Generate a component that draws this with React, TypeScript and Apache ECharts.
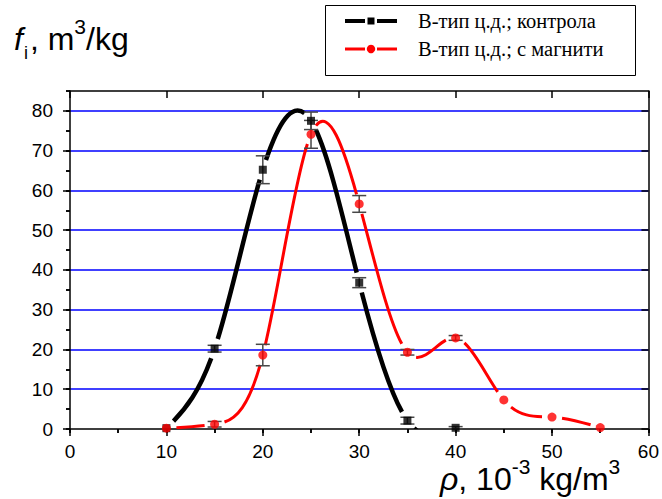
import React, { useEffect, useRef } from "react";
import * as echarts from "echarts";

// ---- data ----
const controlDensity = [10, 15, 20, 25, 30, 35, 40];
const controlValues = [0.2, 20.2, 65.2, 77.5, 36.8, 2.1, 0.3];
const controlErrors = [0, 0.85, 3.5, 2.2, 1.25, 0.85, 0.3];

const magnetDensity = [10, 15, 20, 25, 30, 35, 40, 45, 50, 55];
const magnetValues = [0.2, 1.2, 18.6, 74.1, 56.6, 19.3, 22.9, 7.3, 3.0, 0.35];
const magnetErrors = [0, 0.7, 2.7, 3.5, 2.1, 0.7, 0.6, 0, 0, 0];

const xTicks = [0, 10, 20, 30, 40, 50, 60];
const yTicks = [0, 10, 20, 30, 40, 50, 60, 70, 80];
const yMax = 85;

const legendNames = ["В-тип ц.д.; контрола", "В-тип ц.д.; с магнити"];

const BLACK = "#000000";
const RED = "#ff0000";
const BLUE = "#0000ff";
const ERR = "#484848";
const SANS = "'Liberation Sans', Arial, sans-serif";
const SERIF = "'Liberation Serif', 'Times New Roman', serif";

// Natural cubic spline (as the original plotting program draws it):
// returns, per segment, the Bezier control handles in data space.
function splineSegments(xs: number[], ys: number[]) {
  const n = xs.length;
  const h: number[] = [];
  for (let i = 0; i < n - 1; i++) h.push(xs[i + 1] - xs[i]);
  const M = new Array(n).fill(0);
  if (n > 2) {
    const a: number[] = [], b: number[] = [], c: number[] = [], d: number[] = [];
    for (let i = 1; i < n - 1; i++) {
      a.push(h[i - 1]);
      b.push(2 * (h[i - 1] + h[i]));
      c.push(h[i]);
      d.push(6 * ((ys[i + 1] - ys[i]) / h[i] - (ys[i] - ys[i - 1]) / h[i - 1]));
    }
    const m = b.length;
    const cp = new Array(m).fill(0), dp = new Array(m).fill(0);
    cp[0] = c[0] / b[0];
    dp[0] = d[0] / b[0];
    for (let i = 1; i < m; i++) {
      const den = b[i] - a[i] * cp[i - 1];
      cp[i] = c[i] / den;
      dp[i] = (d[i] - a[i] * dp[i - 1]) / den;
    }
    const sol = new Array(m).fill(0);
    sol[m - 1] = dp[m - 1];
    for (let i = m - 2; i >= 0; i--) sol[i] = dp[i] - cp[i] * sol[i + 1];
    for (let i = 0; i < m; i++) M[i + 1] = sol[i];
  }
  const segs: number[][] = [];
  for (let i = 0; i < n - 1; i++) {
    const hi = h[i];
    const s = (ys[i + 1] - ys[i]) / hi;
    const d0 = s - (hi * (2 * M[i] + M[i + 1])) / 6;
    const d1 = s + (hi * (M[i] + 2 * M[i + 1])) / 6;
    segs.push([
      xs[i], ys[i],
      xs[i] + hi / 3, ys[i] + (d0 * hi) / 3,
      xs[i + 1] - hi / 3, ys[i + 1] - (d1 * hi) / 3,
      xs[i + 1], ys[i + 1],
    ]);
  }
  return segs;
}

type P = [number, number];
const lerp = (p: P, q: P, t: number): P => [p[0] + (q[0] - p[0]) * t, p[1] + (q[1] - p[1]) * t];
function splitBez(p0: P, p1: P, p2: P, p3: P, t: number) {
  const a = lerp(p0, p1, t), b = lerp(p1, p2, t), c = lerp(p2, p3, t);
  const d = lerp(a, b, t), e = lerp(b, c, t);
  const f = lerp(d, e, t);
  return { left: [p0, a, d, f] as P[], right: [f, e, c, p3] as P[] };
}
function bezAt(p: P[], t: number): P {
  const u = 1 - t;
  return [
    u * u * u * p[0][0] + 3 * u * u * t * p[1][0] + 3 * u * t * t * p[2][0] + t * t * t * p[3][0],
    u * u * u * p[0][1] + 3 * u * u * t * p[1][1] + 3 * u * t * t * p[2][1] + t * t * t * p[3][1],
  ];
}
// trim a pixel-space bezier so that it stops `gap` px short of both end markers
function trimBez(p: P[], gap: number): P[] | null {
  const dist = (a: P, b: P) => Math.hypot(a[0] - b[0], a[1] - b[1]);
  const N = 400;
  let t0 = -1, t1 = -1;
  for (let k = 0; k <= N; k++) {
    const t = k / N;
    if (dist(bezAt(p, t), p[0]) >= gap) { t0 = t; break; }
  }
  for (let k = N; k >= 0; k--) {
    const t = k / N;
    if (dist(bezAt(p, t), p[3]) >= gap) { t1 = t; break; }
  }
  if (t0 < 0 || t1 < 0 || t1 <= t0) return null;
  const L = splitBez(p[0], p[1], p[2], p[3], t1).left;
  const R = splitBez(L[0], L[1], L[2], L[3], t0 / t1).right;
  return R;
}

function curveSeries(xs: number[], ys: number[], color: string, width: number, z: number, name: string) {
  const segs = splineSegments(xs, ys);
  return {
    type: "custom",
    name,
    silent: true,
    clip: true,
    z,
    xAxisIndex: 0,
    yAxisIndex: 0,
    encode: { x: 0, y: 1 },
    data: xs.map((x, i) => [x, ys[i]]),
    renderItem: (params: any, api: any) => {
      const i = params.dataIndex;
      if (i >= segs.length) return { type: "group", children: [] };
      const s = segs[i];
      const pts: P[] = [
        api.coord([s[0], s[1]]),
        api.coord([s[2], s[3]]),
        api.coord([s[4], s[5]]),
        api.coord([s[6], s[7]]),
      ];
      const t = trimBez(pts, 10);
      if (!t) return { type: "group", children: [] };
      return {
        type: "bezierCurve",
        shape: {
          x1: t[0][0], y1: t[0][1],
          cpx1: t[1][0], cpy1: t[1][1],
          cpx2: t[2][0], cpy2: t[2][1],
          x2: t[3][0], y2: t[3][1],
        },
        style: { stroke: color, lineWidth: width, fill: "none", lineCap: "butt" },
      };
    },
  };
}

function axisBase(extra: any) {
  return {
    type: "value",
    axisLine: { show: true, onZero: false, lineStyle: { color: BLACK, width: 1.5 } },
    splitLine: { show: false },
    axisLabel: { show: false },
    ...extra,
  };
}

function errorSeries(xs: number[], ys: number[], es: number[], name: string) {
  return {
    type: "custom",
    name,
    silent: true,
    z: 4,
    xAxisIndex: 0,
    yAxisIndex: 0,
    encode: { x: 0, y: 1 },
    data: xs.map((x, i) => [x, ys[i], es[i]]),
    renderItem: (params: any, api: any) => {
      const x = api.value(0);
      const y = api.value(1);
      const e = api.value(2);
      if (!e) return { type: "group", children: [] };
      const top = api.coord([x, y + e]);
      const bot = api.coord([x, y - e]);
      const hw = 7;
      const st = { stroke: ERR, lineWidth: 1.5 };
      return {
        type: "group",
        children: [
          { type: "line", shape: { x1: top[0], y1: top[1], x2: bot[0], y2: bot[1] }, style: st },
          { type: "line", shape: { x1: top[0] - hw, y1: top[1], x2: top[0] + hw, y2: top[1] }, style: st },
          { type: "line", shape: { x1: bot[0] - hw, y1: bot[1], x2: bot[0] + hw, y2: bot[1] }, style: st },
        ],
      };
    },
  };
}

export default function App() {
  const ref = useRef<HTMLDivElement>(null);

  useEffect(() => {
    if (!ref.current) return;
    const chart = echarts.init(ref.current, null, { renderer: "svg" });

    const option: any = {
      animation: false,
      backgroundColor: "#ffffff",
      grid: { left: 70, right: 13, top: 91, bottom: 70, containLabel: false },
      xAxis: [
        axisBase({
          position: "bottom",
          min: 0,
          max: 60,
          interval: 10,
          axisTick: { show: true, inside: false, length: 7, lineStyle: { color: BLACK, width: 1.5 } },
          axisLabel: {
            show: true,
            margin: 13,
            color: BLACK,
            fontSize: 19,
            fontFamily: SANS,
            customValues: xTicks,
          },
        }),
        axisBase({
          position: "bottom",
          min: 0,
          max: 60,
          interval: 5,
          axisLine: { show: false },
          axisTick: { show: true, inside: false, length: 4, lineStyle: { color: BLACK, width: 1.5 } },
        }),
        axisBase({
          position: "top",
          min: 0,
          max: 60,
          interval: 10,
          axisTick: { show: true, inside: true, length: 7, lineStyle: { color: BLACK, width: 1.5 } },
        }),
        axisBase({
          position: "top",
          min: 0,
          max: 60,
          interval: 5,
          axisLine: { show: false },
          axisTick: { show: true, inside: true, length: 4, lineStyle: { color: BLACK, width: 1.5 } },
        }),
      ],
      yAxis: [
        axisBase({
          position: "left",
          min: 0,
          max: yMax,
          interval: 10,
          axisTick: {
            show: true,
            inside: false,
            length: 7,
            customValues: yTicks,
            lineStyle: { color: BLACK, width: 1.5 },
          },
          axisLabel: {
            show: true,
            margin: 17,
            color: BLACK,
            fontSize: 19,
            fontFamily: SANS,
            customValues: yTicks,
            formatter: (v: number) => (yTicks.includes(v) ? String(v) : ""),
          },
          splitLine: {
            show: true,
            showMinLine: false,
            lineStyle: { color: BLUE, width: 1.5 },
          },
        }),
        axisBase({
          position: "left",
          min: 0,
          max: yMax,
          interval: 5,
          axisLine: { show: false },
          axisTick: { show: true, inside: false, length: 4, lineStyle: { color: BLACK, width: 1.5 } },
        }),
        axisBase({
          position: "right",
          min: 0,
          max: yMax,
          interval: 10,
          axisTick: {
            show: true,
            inside: true,
            length: 7,
            customValues: yTicks,
            lineStyle: { color: BLACK, width: 1.5 },
          },
        }),
        axisBase({
          position: "right",
          min: 0,
          max: yMax,
          interval: 5,
          axisLine: { show: false },
          axisTick: { show: true, inside: true, length: 4, lineStyle: { color: BLACK, width: 1.5 } },
        }),
      ],
      series: [
        curveSeries(magnetDensity, magnetValues, RED, 3, 2, legendNames[1]),
        curveSeries(controlDensity, controlValues, BLACK, 4.5, 3, legendNames[0]),
        errorSeries(magnetDensity, magnetValues, magnetErrors, "magnet errors"),
        errorSeries(controlDensity, controlValues, controlErrors, "control errors"),
        {
          type: "scatter",
          name: "control points",
          xAxisIndex: 0,
          yAxisIndex: 0,
          data: controlDensity.map((x, i) => [x, controlValues[i]]),
          symbol: "rect",
          symbolSize: 8,
          silent: true,
          z: 5,
          itemStyle: { color: BLACK },
        },
        {
          type: "scatter",
          name: "magnet points",
          xAxisIndex: 0,
          yAxisIndex: 0,
          data: magnetDensity.map((x, i) => [x, magnetValues[i]]),
          symbol: "circle",
          symbolSize: 9,
          silent: true,
          z: 6,
          itemStyle: { color: RED },
        },
      ],
      graphic: [
        // y-axis title
        {
          type: "text",
          x: 14,
          y: 15.8,
          silent: true,
          style: {
            text: "{f|f}{i|i}{n|, m}{s|3}{n|/kg}",
            fill: BLACK,
            verticalAlign: "top",
            align: "left",
            rich: {
              f: { fontFamily: SANS, fontSize: 32, fontStyle: "italic", lineHeight: 46, verticalAlign: "middle" },
              n: { fontFamily: SANS, fontSize: 32, lineHeight: 46, verticalAlign: "middle" },
              i: { fontFamily: SANS, fontSize: 18, lineHeight: 11, verticalAlign: "bottom", padding: [0, 2, 0, 1] },
              s: { fontFamily: SANS, fontSize: 21, lineHeight: 24, verticalAlign: "top" },
            },
          },
        },
        // x-axis title
        {
          type: "text",
          x: 440,
          y: 455.8,
          silent: true,
          style: {
            text: "{r|ρ}{n|, 10}{s|-3}{n| kg/m}{s|3}",
            fill: BLACK,
            verticalAlign: "top",
            align: "left",
            rich: {
              r: { fontFamily: SANS, fontSize: 32, fontStyle: "italic", lineHeight: 46, verticalAlign: "middle" },
              n: { fontFamily: SANS, fontSize: 32, lineHeight: 46, verticalAlign: "middle" },
              s: { fontFamily: SANS, fontSize: 21, lineHeight: 26, verticalAlign: "top" },
            },
          },
        },
        // legend box
        {
          type: "rect",
          z: 10,
          silent: true,
          shape: { x: 325.5, y: 5.5, width: 310, height: 70 },
          style: { fill: "#ffffff", stroke: BLACK, lineWidth: 1 },
        },
        { type: "line", z: 11, silent: true, shape: { x1: 345, y1: 21, x2: 365, y2: 21 }, style: { stroke: BLACK, lineWidth: 4 } },
        { type: "line", z: 11, silent: true, shape: { x1: 377, y1: 21, x2: 397, y2: 21 }, style: { stroke: BLACK, lineWidth: 4 } },
        { type: "rect", z: 11, silent: true, shape: { x: 367.5, y: 17.5, width: 7, height: 7 }, style: { fill: BLACK } },
        {
          type: "text",
          z: 11,
          silent: true,
          x: 418,
          y: 21,
          style: { text: legendNames[0], fill: BLACK, fontFamily: SERIF, fontSize: 20.5, verticalAlign: "middle", align: "left" },
        },
        { type: "line", z: 11, silent: true, shape: { x1: 345, y1: 49, x2: 365, y2: 49 }, style: { stroke: RED, lineWidth: 3 } },
        { type: "line", z: 11, silent: true, shape: { x1: 377, y1: 49, x2: 397, y2: 49 }, style: { stroke: RED, lineWidth: 3 } },
        { type: "circle", z: 11, silent: true, shape: { cx: 371, cy: 49, r: 4.2 }, style: { fill: RED } },
        {
          type: "text",
          z: 11,
          silent: true,
          x: 418,
          y: 49,
          style: { text: legendNames[1], fill: BLACK, fontFamily: SERIF, fontSize: 20.5, verticalAlign: "middle", align: "left" },
        },
      ],
    };

    chart.setOption(option);
    return () => chart.dispose();
  }, []);

  return <div ref={ref} style={{ width: 662, height: 499, position: "absolute", left: 0, top: 0 }} />;
}
